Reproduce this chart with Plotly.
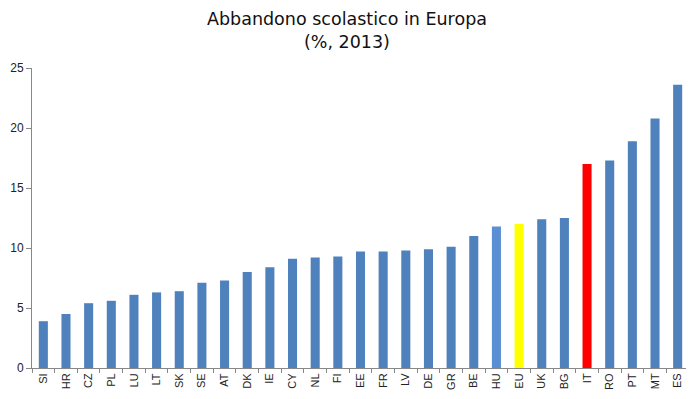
import plotly.graph_objects as go

countries = ["SI","HR","CZ","PL","LU","LT","SK","SE","AT","DK","IE","CY","NL","FI",
             "EE","FR","LV","DE","GR","BE","HU","EU","UK","BG","IT","RO","PT","MT","ES"]
values = [3.9,4.5,5.4,5.6,6.1,6.3,6.4,7.1,7.3,8.0,8.4,9.1,9.2,9.3,
          9.7,9.7,9.8,9.9,10.1,11.0,11.8,12.0,12.4,12.5,17.0,17.3,18.9,20.8,23.6]

special = {"HU": "#5B8FD4", "EU": "#FFFF00", "IT": "#FF0000"}
colors = [special.get(c, "#4F81BD") for c in countries]

fig = go.Figure(go.Bar(
    x=countries, y=values, marker_color=colors, marker_line_width=0,
))

W, H = 686, 391  # page body has an 8px margin
fig.update_layout(
    width=W, height=H,
    margin=dict(l=24, r=5, t=60, b=31, autoexpand=False),
    paper_bgcolor="white", plot_bgcolor="white",
    bargap=0.6,
    showlegend=False,
    annotations=[dict(
        text="Abbandono scolastico in Europa<br>(%, 2013)",
        xref="paper", yref="paper", x=0.48, y=1.0 + 14 / 300,
        xanchor="center", yanchor="bottom", showarrow=False,
        font=dict(family="DejaVu Sans", size=17.5, color="#111"),
    )],
)
fig.update_xaxes(
    type="category", showline=True, linecolor="#888", linewidth=1,
    ticks="outside", tickson="boundaries", ticklen=4, tickcolor="#888",
    tickangle=-90, tickfont=dict(family="Liberation Sans", size=11, color="#222"),
    showgrid=False, automargin=False,
)
fig.update_yaxes(
    range=[0, 25], dtick=5, showline=True, linecolor="#888", linewidth=1,
    ticks="outside", ticklen=5, tickcolor="#888", showgrid=False, zeroline=False,
    tickfont=dict(family="Liberation Sans", size=12, color="#222"),
    automargin=False,
)

fig.write_html("out.html")
